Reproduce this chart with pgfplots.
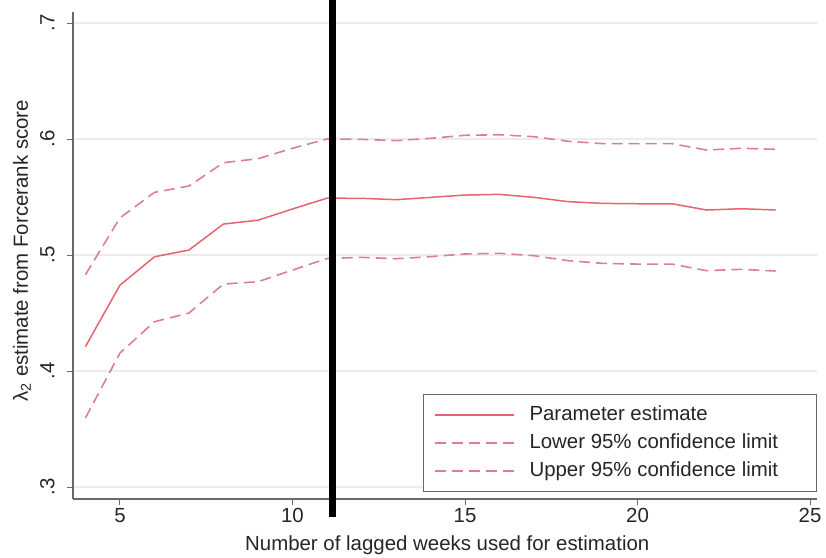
\documentclass[border=0pt]{standalone}
\usepackage{fontspec}
\setmainfont{Liberation Sans}
\usepackage{pgfplots}
\pgfplotsset{compat=1.18}
\usepackage{pgfplotstable}

\definecolor{estc}{RGB}{230,100,112}
\definecolor{cic}{RGB}{220,128,140}
\definecolor{axc}{RGB}{105,105,105}
\definecolor{gridc}{RGB}{236,236,236}

\pgfplotstableread{
x est lo hi
4 0.421 0.3595 0.483
5 0.474 0.4155 0.532
6 0.4985 0.4425 0.554
7 0.5043 0.450 0.5595
8 0.5267 0.475 0.5796
9 0.530 0.477 0.583
10 0.5397 0.487 0.592
11 0.549 0.497 0.600
12 0.5489 0.498 0.5997
13 0.5477 0.4968 0.5986
14 0.5497 0.4986 0.6006
15 0.5517 0.5009 0.6032
16 0.5523 0.5015 0.6037
17 0.5497 0.4994 0.602
18 0.546 0.4951 0.598
19 0.5445 0.4928 0.596
20 0.5442 0.4922 0.596
21 0.5442 0.4922 0.596
22 0.5388 0.4865 0.5905
23 0.5399 0.4877 0.592
24 0.5388 0.4862 0.5911
}\data

\newcommand{\chfont}{\fontsize{20.5}{24}\selectfont}

\begin{document}
\begin{tikzpicture}
\begin{axis}[
  at={(73bp,59bp)}, anchor=south west,
  scale only axis, width=744bp, height=487bp,
  xmin=3.64, xmax=25.2, ymin=0.2897, ymax=0.7095,
  clip=false,
  axis x line*=bottom, axis y line*=left,
  axis line style={axc, line width=1.3bp},
  xtick={5,10,15,20,25},
  ytick={0.3,0.4,0.5,0.6,0.7},
  yticklabels={.3,.4,.5,.6,.7},
  tick align=outside, major tick length=6bp,
  tick style={axc, line width=1bp},
  ymajorgrids, grid style={gridc, line width=1.2bp},
  /pgf/number format/assume math mode=true,
  tick label style={font=\chfont, text=black!85},
  yticklabel style={rotate=90, anchor=south},
  yticklabel shift=9bp,
  label style={font=\chfont, text=black!85},
  xlabel={Number of lagged weeks used for estimation},
  ylabel={λ\textsubscript{2} estimate from Forcerank score},
  xlabel style={at={(axis description cs:0.503,-0.094)}, anchor=center},
  ylabel style={at={(axis description cs:-0.0685,0.51)}, anchor=center, rotate=0},
  legend image code/.code={\draw[#1] (0bp,0bp) -- (79bp,0bp);},
  legend style={at={(axis cs:25.2,0.2957)}, anchor=south east,
    draw=axc, line width=1bp, font=\chfont, text=black!85,
    inner xsep=10bp, inner ysep=10.5bp,
    row sep=8bp, column sep=15bp,
    nodes={inner sep=0pt, text height=15bp, text depth=5bp},
    cells={anchor=west}},
]
\addplot[estc, line width=1.5bp] table[x=x, y=est] {\data};
\addlegendentry{\makebox[277bp][l]{Parameter estimate}}
\addplot[cic, line width=1.6bp, dash pattern=on 11bp off 6bp] table[x=x, y=lo] {\data};
\addlegendentry{\makebox[277bp][l]{Lower 95\% confidence limit}}
\addplot[cic, line width=1.6bp, dash pattern=on 11bp off 6bp] table[x=x, y=hi] {\data};
\addlegendentry{\makebox[277bp][l]{Upper 95\% confidence limit}}
\addplot[black, line width=7bp, forget plot] coordinates {(11.16,0.2742) (11.16,0.7198)};
\end{axis}
\pgfresetboundingbox
\useasboundingbox (0,0) rectangle (826bp,558bp);
\end{tikzpicture}
\end{document}
